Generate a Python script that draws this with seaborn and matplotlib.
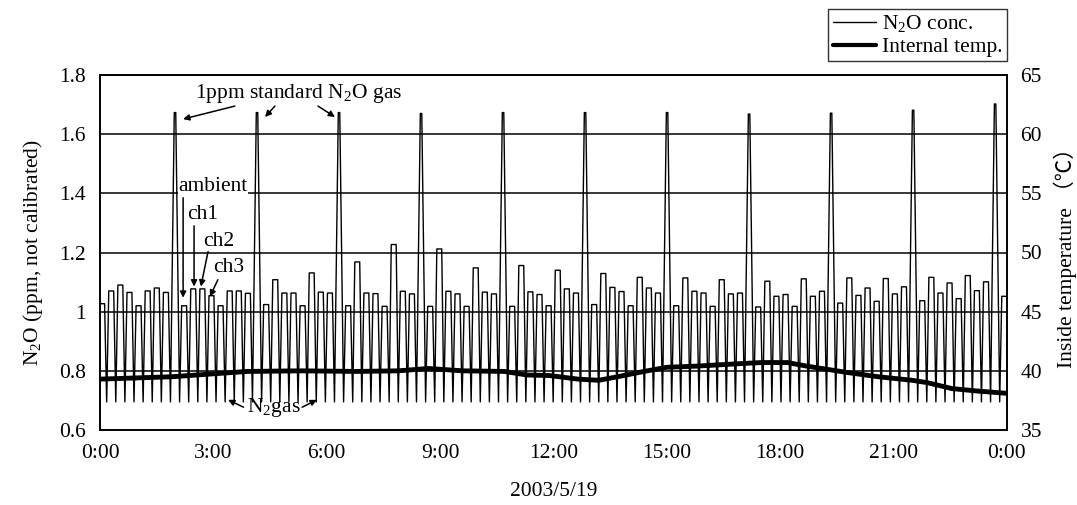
import numpy as np
import pandas as pd
import matplotlib
matplotlib.use("Agg")
import matplotlib.pyplot as plt
from matplotlib.lines import Line2D
import seaborn as sns

# ---------------- data ----------------
# peak value of every 14.5-min measurement slot (N2 flush between slots)
# order per cycle: ambient, ch1, ch2, ch3, ambient, ch1, ch2, ch3, 1ppm standard
slot_peaks = [
    1.027, 1.070, 1.090, 1.065, 1.020, 1.070, 1.080, 1.065, 1.673,
    1.020, 1.077, 1.077, 1.054, 1.020, 1.070, 1.070, 1.062, 1.673,
    1.024, 1.108, 1.063, 1.063, 1.020, 1.131, 1.066, 1.063, 1.673,
    1.020, 1.168, 1.063, 1.061, 1.018, 1.227, 1.069, 1.060, 1.670,
    1.018, 1.212, 1.069, 1.060, 1.018, 1.148, 1.066, 1.060, 1.673,
    1.018, 1.156, 1.067, 1.058, 1.020, 1.140, 1.077, 1.063, 1.673,
    1.024, 1.129, 1.082, 1.068, 1.020, 1.116, 1.080, 1.063, 1.673,
    1.020, 1.114, 1.069, 1.063, 1.018, 1.108, 1.060, 1.063, 1.668,
    1.016, 1.103, 1.052, 1.058, 1.018, 1.111, 1.052, 1.069, 1.671,
    1.029, 1.114, 1.055, 1.080, 1.035, 1.112, 1.060, 1.084, 1.681,
    1.037, 1.116, 1.063, 1.097, 1.044, 1.122, 1.071, 1.101, 1.702,
    1.052,
]
n2_level = 0.695            # N2 gas baseline (ppm)
slot_first_center_h = 0.056 # centre of first slot (hours)
slot_length_h = 0.2412      # slot length (hours)

temp_time_h = [0.0, 1.9, 3.9, 5.3, 6.8, 7.9, 8.7, 9.6, 10.7, 11.3, 11.9, 12.65,
               13.2, 13.7, 14.4, 15.0, 15.8, 16.9, 17.5, 18.2, 18.7, 19.3, 19.8,
               20.6, 21.5, 21.9, 22.55, 23.2, 24.0]
temp_c = [39.3, 39.5, 39.95, 40.0, 39.95, 40.0, 40.2, 40.0, 39.95, 39.65, 39.6, 39.3,
          39.2, 39.5, 39.95, 40.3, 40.4, 40.6, 40.7, 40.7, 40.4, 40.1, 39.85,
          39.5, 39.2, 39.0, 38.5, 38.3, 38.1]

x_ticks = [0, 3, 6, 9, 12, 15, 18, 21, 24]
x_tick_labels = ["0:00", "3:00", "6:00", "9:00", "12:00", "15:00", "18:00", "21:00", "0:00"]
left_ticks = [0.6, 0.8, 1.0, 1.2, 1.4, 1.6, 1.8]
left_tick_labels = ["0.6", "0.8", "1", "1.2", "1.4", "1.6", "1.8"]
right_ticks = [35, 40, 45, 50, 55, 60, 65]

# ---------------- build the measured trace ----------------
t_pts, v_pts = [], []
for k, peak in enumerate(slot_peaks):
    c = slot_first_center_h + k * slot_length_h
    top = 0.08 if peak > 1.5 else 0.27
    t_pts += [c - 0.5 * slot_length_h, c - top * slot_length_h, c + top * slot_length_h]
    v_pts += [n2_level, peak, peak]
t_pts.append(c + 0.5 * slot_length_h)
v_pts.append(n2_level)
n2o_df = pd.DataFrame({"time": t_pts, "n2o": v_pts})
temp_df = pd.DataFrame({"time": temp_time_h, "temp": temp_c})

# ---------------- style ----------------
sns.set_theme(style="white")
plt.rcParams["font.family"] = ["Liberation Serif", "Noto Sans CJK JP", "DejaVu Sans"]
plt.rcParams["mathtext.fontset"] = "custom"
plt.rcParams["mathtext.rm"] = "Liberation Serif"
plt.rcParams["text.color"] = "black"
plt.rcParams["axes.labelcolor"] = "black"
plt.rcParams["xtick.color"] = "black"
plt.rcParams["ytick.color"] = "black"
FS = 15.5

fig = plt.figure(figsize=(10.77, 5.05), dpi=100)
ax = fig.add_axes([100 / 1077, 1 - 430 / 505, 906.7 / 1077, 355 / 505])

sns.lineplot(data=n2o_df, x="time", y="n2o", ax=ax, color="black", lw=1.0,
             estimator=None, sort=False)
ax.set_xlim(0, 24)
ax.set_ylim(0.6, 1.8)
ax.set_yticks(left_ticks)
ax.set_yticklabels(left_tick_labels, fontsize=FS)
ax.set_xticks(x_ticks)
ax.set_xticklabels(x_tick_labels, fontsize=FS)
ax.grid(axis="y", color="black", lw=1.1)
ax.grid(axis="x", visible=False)
ax.tick_params(axis="x", direction="in", length=8, width=1, pad=10)
ax.tick_params(axis="y", length=0, pad=10)
ax.set_xlabel("2003/5/19", fontsize=FS, labelpad=14)
ax.set_ylabel(r"N$_\mathregular{2}$O (ppm, not calibrated)", fontsize=FS, labelpad=10)
for s in ax.spines.values():
    s.set_color("black")
    s.set_linewidth(1.2)

ax2 = ax.twinx()
sns.lineplot(data=temp_df, x="time", y="temp", ax=ax2, color="black", lw=3.5,
             estimator=None, sort=False)
ax2.set_ylim(35, 65)
ax2.set_yticks(right_ticks)
ax2.set_yticklabels([str(v) for v in right_ticks], fontsize=FS)
ax2.tick_params(axis="y", length=0, pad=10)
ax2.set_ylabel("Inside temperature （℃）", fontsize=FS, labelpad=8)
ax2.grid(False)
for s in ax2.spines.values():
    s.set_color("black")
    s.set_linewidth(1.2)

# ---------------- annotations ----------------
arrow_kw = dict(arrowstyle="-|>", color="black", lw=1.1, mutation_scale=9,
                shrinkA=0, shrinkB=0)
ax.text(5.25, 1.736, r"1ppm standard N$_\mathregular{2}$O gas", fontsize=FS,
        ha="center", va="center")
for tip, start in [((2.2, 1.651), (3.57, 1.695)),
                   ((4.37, 1.658), (4.63, 1.695)),
                   ((6.22, 1.658), (5.77, 1.695))]:
    ax.annotate("", xy=tip, xytext=start, arrowprops=arrow_kw)

ax.text(2.08, 1.424, "ambient", fontsize=FS, ha="left", va="center",
        bbox=dict(facecolor="white", edgecolor="none", pad=0.5))
ax.annotate("", xy=(2.2, 1.047), xytext=(2.2, 1.385), arrowprops=arrow_kw)
ax.text(2.3, 1.329, "ch1", fontsize=FS, ha="left", va="center")
ax.annotate("", xy=(2.49, 1.085), xytext=(2.49, 1.29), arrowprops=arrow_kw)
ax.text(2.72, 1.237, "ch2", fontsize=FS, ha="left", va="center")
ax.annotate("", xy=(2.67, 1.085), xytext=(2.86, 1.203), arrowprops=arrow_kw)
ax.text(3.0, 1.149, "ch3", fontsize=FS, ha="left", va="center")
ax.annotate("", xy=(2.91, 1.051), xytext=(3.12, 1.108), arrowprops=arrow_kw)

ax.text(4.6, 0.675, r"N$_\mathregular{2}$gas", fontsize=FS, ha="center", va="center")
ax.annotate("", xy=(3.39, 0.702), xytext=(3.8, 0.677), arrowprops=arrow_kw)
ax.annotate("", xy=(5.74, 0.702), xytext=(5.35, 0.677), arrowprops=arrow_kw)

# ---------------- legend ----------------
handles = [Line2D([], [], color="black", lw=1.0),
           Line2D([], [], color="black", lw=3.0)]
labels = [r"N$_\mathregular{2}$O conc.", "Internal temp."]
leg = fig.legend(handles, labels, loc="upper right",
                 bbox_to_anchor=(1007 / 1077, 1 - 9 / 505), borderaxespad=0,
                 fontsize=FS, frameon=True, fancybox=False, shadow=False,
                 handlelength=2.0, handletextpad=0.3, labelspacing=0.1,
                 borderpad=0.2)
leg.get_frame().set_edgecolor("black")
leg.get_frame().set_linewidth(1.0)

fig.savefig("out.png", dpi=100)
